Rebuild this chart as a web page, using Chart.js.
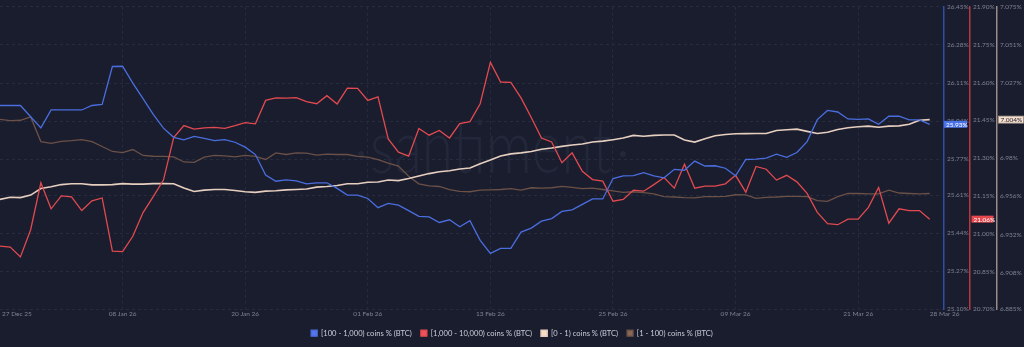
<!DOCTYPE html>
<html>
<head>
<meta charset="utf-8">
<script src="https://cdn.jsdelivr.net/npm/chart.js@4"></script>
<style>
  html, body { margin: 0; padding: 0; background: #1a1d2d; }
  #wrap { width: 1024px; height: 347px; }
</style>
</head>
<body>
<div id="wrap"><canvas id="chart"></canvas></div>
<script>
// day index 0 = 27 Dec 25, one point per day up to 28 Mar 26
const xTickIndex = [0, 12, 24, 36, 48, 60, 72, 84, 91];
const xTickLabels = ['27 Dec 25', '08 Jan 26', '20 Jan 26', '01 Feb 26', '13 Feb 26', '25 Feb 26', '09 Mar 26', '21 Mar 26', '28 Mar 26'];

const blueTicks = [25.10, 25.27, 25.44, 25.61, 25.77, 25.94, 26.11, 26.28, 26.45];
const redTicks = [20.70, 20.85, 21.00, 21.15, 21.30, 21.45, 21.60, 21.75, 21.90];
const creamTicks = [6.885, 6.908, 6.932, 6.956, 6.98, 7.004, 7.027, 7.051, 7.075];

// [100 - 1,000) coins % (BTC)
const blueVals = [
  26.01, 26.01, 26.01, 25.96, 25.91, 25.99, 25.99, 25.99, 25.99, 26.01,
  26.015, 26.184, 26.185, 26.11, 26.041, 25.97, 25.909, 25.868, 25.857, 25.872,
  25.863, 25.853, 25.858, 25.846, 25.824, 25.791, 25.70, 25.672, 25.678, 25.674,
  25.66, 25.665, 25.665, 25.64, 25.61, 25.61, 25.595, 25.554, 25.573, 25.565,
  25.541, 25.515, 25.513, 25.488, 25.50, 25.469, 25.496, 25.408, 25.35, 25.372,
  25.372, 25.445, 25.463, 25.494, 25.505, 25.537, 25.544, 25.569, 25.593, 25.593,
  25.684, 25.696, 25.697, 25.71, 25.696, 25.687, 25.725, 25.721, 25.762, 25.74,
  25.741, 25.73, 25.696, 25.769, 25.771, 25.775, 25.793, 25.779, 25.80, 25.849,
  25.947, 25.988, 25.981, 25.95, 25.948, 25.95, 25.926, 25.962, 25.962, 25.946,
  25.946, 25.926
];
// [1,000 - 10,000) coins % (BTC)
const redVals = [
  20.951, 20.947, 20.908, 21.016, 21.202, 21.099, 21.150, 21.146, 21.092, 21.131,
  21.142, 20.931, 20.929, 20.990, 21.084, 21.147, 21.213, 21.382, 21.429, 21.415,
  21.420, 21.422, 21.418, 21.429, 21.441, 21.436, 21.529, 21.539, 21.538, 21.540,
  21.524, 21.516, 21.548, 21.515, 21.578, 21.577, 21.529, 21.543, 21.376, 21.324,
  21.308, 21.418, 21.391, 21.410, 21.380, 21.437, 21.445, 21.516, 21.680, 21.602,
  21.601, 21.539, 21.461, 21.380, 21.364, 21.282, 21.321, 21.248, 21.215, 21.209,
  21.129, 21.136, 21.173, 21.169, 21.195, 21.223, 21.181, 21.276, 21.181, 21.189,
  21.189, 21.198, 21.232, 21.165, 21.267, 21.256, 21.213, 21.232, 21.206, 21.160,
  21.085, 21.040, 21.036, 21.058, 21.058, 21.105, 21.184, 21.042, 21.099, 21.092,
  21.092, 21.058
];
// [0 - 1) coins % (BTC)
const creamVals = [
  6.9541, 6.9554, 6.9552, 6.9568, 6.9609, 6.9620, 6.9634, 6.9639, 6.9639, 6.9632,
  6.9632, 6.9634, 6.9640, 6.9637, 6.9637, 6.9640, 6.9640, 6.9639, 6.9612, 6.9591,
  6.9599, 6.9603, 6.9603, 6.9597, 6.9589, 6.9585, 6.9593, 6.9595, 6.9601, 6.9603,
  6.9606, 6.9618, 6.9622, 6.9628, 6.9639, 6.9639, 6.9649, 6.9650, 6.9663, 6.9659,
  6.9672, 6.9688, 6.9703, 6.9715, 6.9721, 6.9732, 6.9738, 6.9765, 6.9789, 6.9814,
  6.9827, 6.9833, 6.9842, 6.9856, 6.9864, 6.9874, 6.9883, 6.9889, 6.9901, 6.9907,
  6.9916, 6.9926, 6.9943, 6.9938, 6.9943, 6.9945, 6.9945, 6.9914, 6.9901, 6.9922,
  6.9941, 6.9949, 6.9953, 6.9954, 6.9955, 6.9955, 6.9974, 6.9978, 6.9982, 6.9968,
  6.9955, 6.9963, 6.9980, 6.9991, 6.9997, 7.0001, 6.9994, 7.0001, 7.0003, 7.0013,
  7.0038, 7.0042
];
// [1 - 100) coins % (BTC) - its axis is hidden in the original
const brownVals = [
  7.0044, 7.0036, 7.0038, 7.0059, 6.9904, 6.9893, 6.9906, 6.9910, 6.9916, 6.9904,
  6.9873, 6.9842, 6.9835, 6.9854, 6.9817, 6.9812, 6.9811, 6.9808, 6.9776, 6.9773,
  6.9806, 6.9817, 6.9814, 6.9808, 6.9817, 6.9811, 6.9792, 6.9833, 6.9823, 6.9833,
  6.9831, 6.9819, 6.9825, 6.9823, 6.9823, 6.9811, 6.9806, 6.9791, 6.9769, 6.9750,
  6.9686, 6.9639, 6.9626, 6.9622, 6.9603, 6.9591, 6.9589, 6.9599, 6.9601, 6.9603,
  6.9608, 6.9599, 6.9614, 6.9612, 6.9614, 6.9623, 6.9616, 6.9608, 6.9612, 6.9603,
  6.9595, 6.9585, 6.9589, 6.9583, 6.9575, 6.9558, 6.9556, 6.9552, 6.9550, 6.9558,
  6.9558, 6.9560, 6.9570, 6.9569, 6.9547, 6.9554, 6.9556, 6.9560, 6.9560, 6.9558,
  6.9533, 6.9529, 6.9558, 6.9578, 6.9578, 6.9575, 6.9575, 6.9599, 6.9581, 6.9578,
  6.9575, 6.9578
];

const FONT = 'Lato, "Open Sans", sans-serif';
Chart.defaults.font.family = FONT;

const toPoints = vals => vals.map((v, i) => ({ x: i, y: v }));

function fixedTicks(list) {
  return s => { s.ticks = list.map(v => ({ value: v })); };
}

const gridColor = '#262b3d';

const watermark = {
  id: 'watermark',
  beforeDatasetsDraw(chart) {
    const ctx = chart.ctx;
    ctx.save();
    ctx.fillStyle = '#23273a';
    ctx.font = '300 74px ' + FONT;
    ctx.textBaseline = 'alphabetic';
    ctx.textAlign = 'left';
    ctx.fillText('santiment', 370, 173, 242);
    ctx.beginPath();
    ctx.arc(361, 154, 3, 0, Math.PI * 2);
    ctx.arc(623, 154, 3, 0, Math.PI * 2);
    ctx.fill();
    ctx.restore();
  }
};

const extras = {
  id: 'extras',
  afterDraw(chart) {
    const ctx = chart.ctx;
    const xs = chart.scales.x;
    ctx.save();
    ctx.font = '6.5px ' + FONT;
    ctx.fillStyle = '#7d8293';
    ctx.textBaseline = 'middle';
    xTickIndex.forEach((idx, k) => {
      const px = xs.getPixelForValue(idx);
      const last = k === xTickIndex.length - 1;
      ctx.textAlign = (k === 0 || last) ? 'left' : 'center';
      ctx.fillText(xTickLabels[k], k === 0 ? px + 2 : px, 314);
    });

    // last value badges on the axes
    const badges = [
      { axis: 'yBlue', val: blueVals[blueVals.length - 1], dec: 2, fill: '#4a72e8', text: '#ffffff', w: 23, dx: 0 },
      { axis: 'yRed', val: redVals[redVals.length - 1], dec: 2, fill: '#e5484f', text: '#ffffff', w: 22, dx: 1.5 },
      { axis: 'yCream', val: creamVals[creamVals.length - 1], dec: 3, fill: '#f7dfcd', text: '#1a1d2d', w: 25, dx: 1.5, stroke: '#a89a90' }
    ];
    ctx.font = '6.5px ' + FONT;
    badges.forEach(b => {
      const sc = chart.scales[b.axis];
      const py = sc.getPixelForValue(b.val);
      const x = sc.left + b.dx;
      ctx.fillStyle = b.fill;
      ctx.fillRect(x, py - 3.5, b.w, 7);
      if (b.stroke) {
        ctx.strokeStyle = b.stroke;
        ctx.lineWidth = 0.8;
        ctx.strokeRect(x, py - 3.5, b.w, 7);
      }
      ctx.fillStyle = b.text;
      ctx.textAlign = 'left';
      ctx.fillText(b.val.toFixed(b.dec) + '%', x + 2, py + 0.5);
    });
    ctx.restore();
  }
};

function rightAxis(ticks, dec, color, weight, width, drawGrid) {
  return {
    position: 'right',
    weight: weight,
    min: ticks[0],
    max: ticks[ticks.length - 1],
    afterBuildTicks: fixedTicks(ticks),
    afterFit: s => { s.width = width; },
    border: { display: true, color: color, width: 1.5, dash: [3, 3] },
    grid: { drawOnChartArea: drawGrid, drawTicks: false, color: gridColor, lineWidth: 1 },
    ticks: {
      padding: 3,
      color: '#7d8293',
      font: { size: 6.5 },
      callback: v => (dec === null ? String(v) : Number(v).toFixed(dec)) + '%'
    }
  };
}

new Chart(document.getElementById('chart'), {
  type: 'line',
  data: {
    datasets: [
      { label: '[100 - 1,000) coins % (BTC)', data: toPoints(blueVals), yAxisID: 'yBlue',
        borderColor: '#4a6ee0', backgroundColor: '#5575ea', borderWidth: 1.3 },
      { label: '[1,000 - 10,000) coins % (BTC)', data: toPoints(redVals), yAxisID: 'yRed',
        borderColor: '#e24a50', backgroundColor: '#ef5358', borderWidth: 1.3 },
      { label: '[0 - 1) coins % (BTC)', data: toPoints(creamVals), yAxisID: 'yCream',
        borderColor: '#e6cfc0', backgroundColor: '#fbdcc6', borderWidth: 1.6 },
      { label: '[1 - 100) coins % (BTC)', data: toPoints(brownVals), yAxisID: 'yBrown',
        borderColor: '#6b5147', backgroundColor: '#8a6656', borderWidth: 1.3 }
    ]
  },
  options: {
    responsive: true,
    maintainAspectRatio: false,
    animation: false,
    layout: { padding: { top: 3, left: 0, right: 0, bottom: 0 }, autoPadding: false },
    elements: { point: { radius: 0 }, line: { tension: 0 } },
    plugins: {
      tooltip: { enabled: false },
      legend: {
        position: 'bottom',
        labels: {
          boxWidth: 6, boxHeight: 6, padding: 9,
          color: '#c9cdd8',
          font: { size: 7.6 }
        }
      }
    },
    scales: {
      x: {
        type: 'linear',
        min: 0,
        max: 92.4,
        afterBuildTicks: s => { s.ticks = xTickIndex.slice(1, -1).map(v => ({ value: v })); },
        afterFit: s => { s.height = 11; },
        ticks: { display: false },
        border: { display: false, dash: [3, 3] },
        grid: { color: gridColor, drawTicks: false, lineWidth: 1 }
      },
      yBlue: rightAxis(blueTicks, 2, '#2f4ea6', 0, 26, true),
      yRed: rightAxis(redTicks, 2, '#b23a40', 1, 27, false),
      yCream: rightAxis(creamTicks, null, '#9a8c88', 2, 27, false),
      yBrown: { display: false, min: creamTicks[0], max: creamTicks[creamTicks.length - 1] }
    }
  },
  plugins: [watermark, extras]
});
</script>
</body>
</html>
